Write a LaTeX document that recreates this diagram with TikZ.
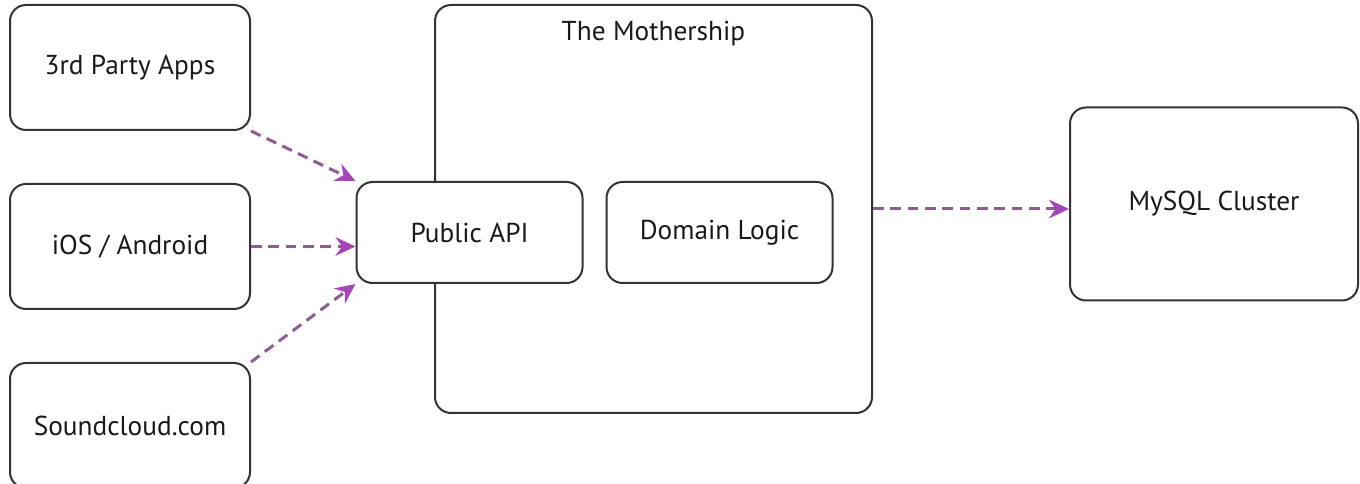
\documentclass[tikz,border=0pt]{standalone}
\usepackage{fontspec}
\setmainfont{PT Sans}
\usetikzlibrary{arrows.meta,positioning}
\definecolor{boxline}{HTML}{333333}
\definecolor{flowline}{HTML}{8E5E92}
\definecolor{flowtip}{HTML}{A646B6}

\begin{document}
\begin{tikzpicture}[x=0.75pt,y=-0.75pt,
	node distance=39pt,
	box/.style={rectangle,draw=boxline,fill=white,line width=1.5pt,rounded corners=12pt,inner sep=0pt,font=\fontsize{20.5}{24}\selectfont,text=black!90},
	client/.style={box,minimum width=180pt,minimum height=93.75pt},
	inner/.style={box,minimum width=169.5pt,minimum height=75.75pt},
	system/.style={box,minimum width=327.75pt,minimum height=306pt},
	store/.style={box,minimum width=216pt,minimum height=144.75pt},
	title/.style={inner sep=0pt,font=\fontsize{20.5}{24}\selectfont,text=black!90},
	flow/.style={-{Stealth[length=15pt,width=14pt,inset=5pt,color=flowtip]}, draw=flowline, line width=2.25pt, dash pattern=on 8pt off 5pt}
	]
\useasboundingbox (0,0) rectangle (1360,484);

\node [client] (third) at (130,67.5) {3rd Party Apps};
\node [client] (ios)  [below = of third] {iOS / Android};
\node [client] (web)  [below = of ios] {Soundcloud.com};

\node [system] (mothership) at (653.5,209) {};
\node [title] (mtitle) [below = 13pt of mothership.north] {The Mothership};
\node [inner] (api) at (469.5,232.5) {Public API};
\node [inner] (logic) [right = 16.5pt of api] {Domain Logic};

\node [store] (mysql) at (1214,204) {MySQL Cluster};

\draw [flow] (third.south east) -- (api.north west);
\draw [flow] (ios.east) -- (ios.east -| api.west);
\draw [flow] (web.north east) -- (api.south west);
\draw [flow] (mothership.east) -- (mothership.east -| mysql.west);
\end{tikzpicture}
\end{document}
